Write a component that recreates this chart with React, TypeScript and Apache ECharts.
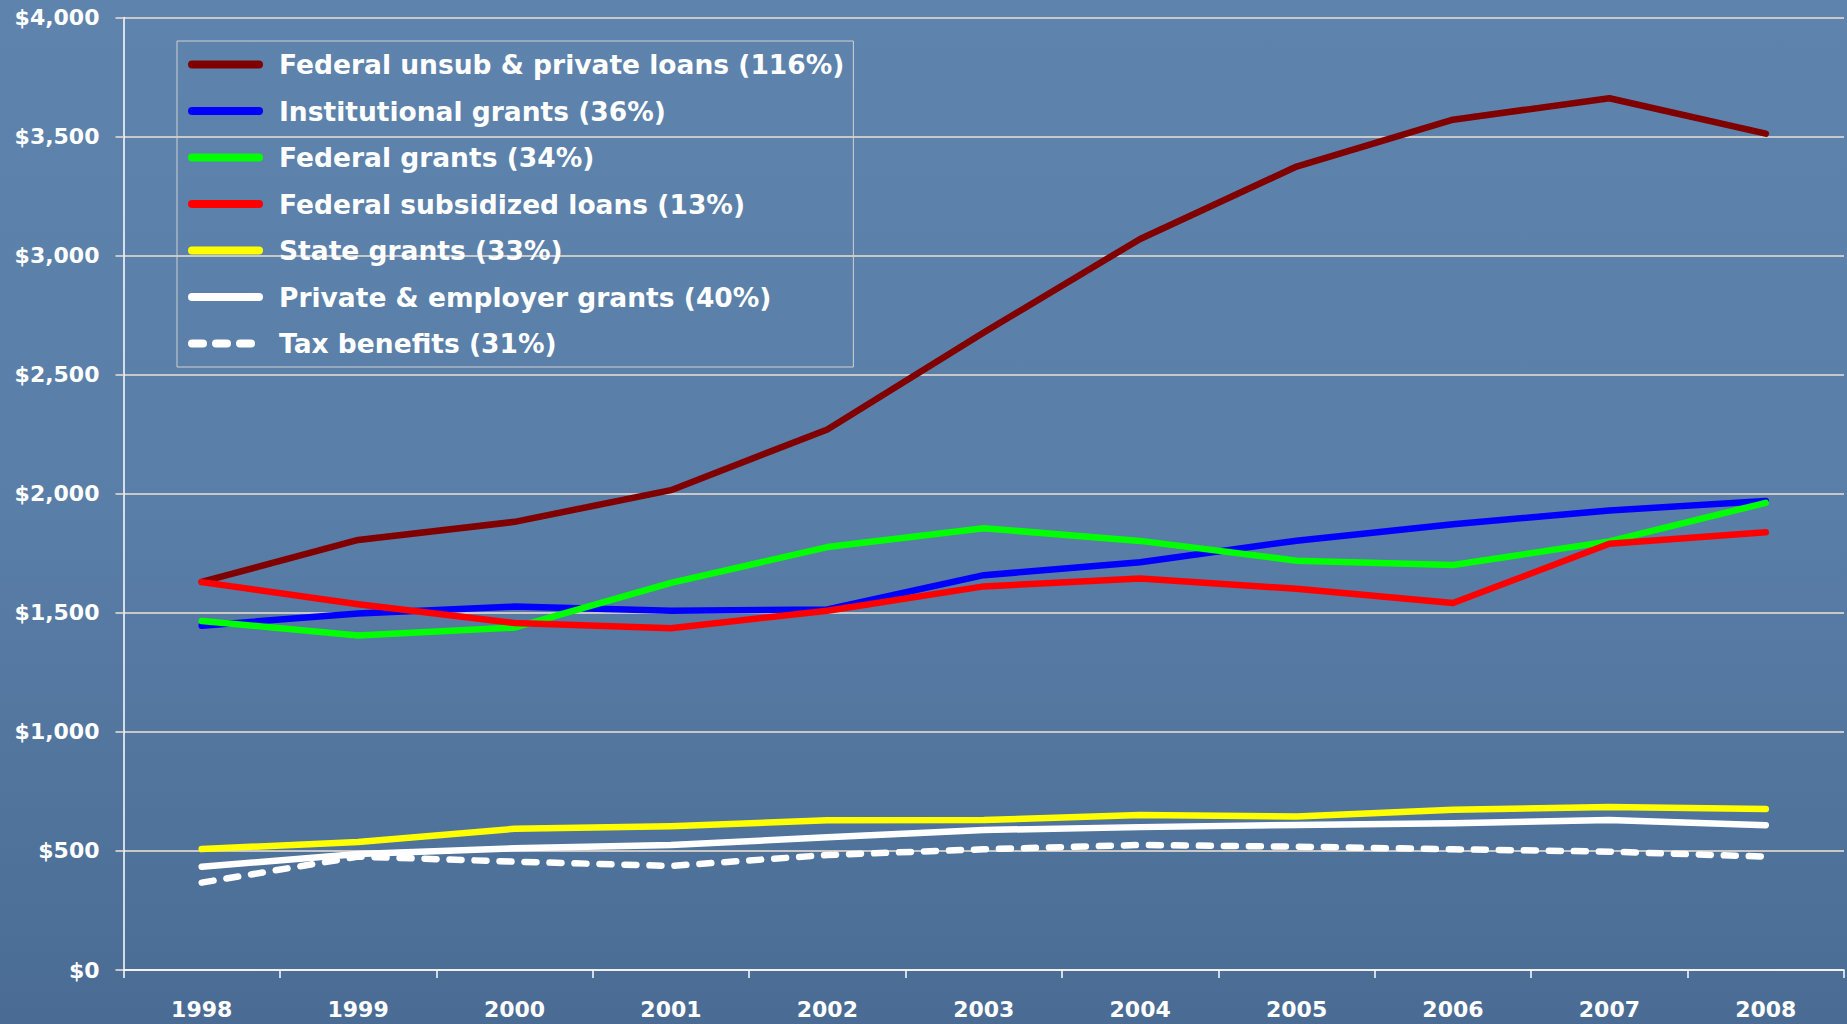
import React, { useEffect, useRef } from "react";
import * as echarts from "echarts";

const years = ["1998", "1999", "2000", "2001", "2002", "2003", "2004", "2005", "2006", "2007", "2008"];

const unsubPrivateLoans = [1630, 1806, 1882, 2015, 2270, 2677, 3070, 3374, 3571, 3661, 3512];
const institutionalGrants = [1446, 1497, 1526, 1509, 1514, 1658, 1712, 1803, 1872, 1930, 1970];
const federalGrants = [1466, 1405, 1438, 1626, 1776, 1855, 1802, 1719, 1701, 1800, 1962];
const subsidizedLoans = [1629, 1536, 1457, 1435, 1509, 1611, 1644, 1601, 1541, 1790, 1838];
const stateGrants = [508, 538, 593, 604, 629, 630, 651, 645, 673, 684, 676];
const privateEmployerGrants = [434, 487, 511, 525, 557, 588, 600, 609, 616, 630, 608];
const taxBenefits = [367, 476, 455, 437, 483, 507, 525, 518, 507, 497, 476];

const seriesNames = [
  "Federal unsub & private loans (116%)",
  "Institutional grants (36%)",
  "Federal grants (34%)",
  "Federal subsidized loans (13%)",
  "State grants (33%)",
  "Private & employer grants (40%)",
  "Tax benefits (31%)",
];
const seriesColors = ["#800000", "#0000ff", "#00ff00", "#ff0000", "#ffff00", "#ffffff", "#ffffff"];
const seriesData = [
  unsubPrivateLoans,
  institutionalGrants,
  federalGrants,
  subsidizedLoans,
  stateGrants,
  privateEmployerGrants,
  taxBenefits,
];

const FONT = "'DejaVu Sans', Verdana, sans-serif";

export default function App() {
  const ref = useRef<HTMLDivElement>(null);

  useEffect(() => {
    document.body.style.margin = "0";
    if (!ref.current) return;
    const chart = echarts.init(ref.current, undefined, { renderer: "svg" });

    const series = seriesNames.map((name, i) => ({
      name,
      type: "line",
      data: seriesData[i],
      symbol: "none",
      lineStyle: {
        color: seriesColors[i],
        width: 6.5,
        type: i === 6 ? [12, 13] : "solid",
        cap: "round",
        join: "round",
      },
      itemStyle: { color: seriesColors[i] },
      z: 2 + i,
    }));

    chart.setOption({
      animation: false,
      backgroundColor: {
        type: "linear",
        x: 0,
        y: 0,
        x2: 0,
        y2: 1,
        colorStops: [
          { offset: 0, color: "#5e84ad" },
          { offset: 0.5, color: "#597ea7" },
          { offset: 1, color: "#4a6c94" },
        ],
      },
      grid: { left: 123.5, right: 3, top: 17.5, bottom: 54, containLabel: false },
      legend: {
        orient: "vertical",
        left: 177,
        top: 41,
        padding: [10, 9, 10, 11],
        borderColor: "#d0d0d0",
        borderWidth: 1,
        itemWidth: 67,
        itemHeight: 27,
        itemGap: 19.5,
        itemStyle: { opacity: 0 },
        lineStyle: { width: 8, cap: "round" },
        textStyle: {
          color: "#ffffff",
          fontSize: 26.5,
          fontWeight: "bold",
          fontFamily: FONT,
          padding: [0, 0, 0, 15],
        },
        data: seriesNames.map((n, i) =>
          i === 6 ? { name: n, lineStyle: { type: [11, 13], width: 8, cap: "round" } } : { name: n }
        ),
      },
      xAxis: {
        type: "category",
        data: years,
        boundaryGap: true,
        axisLine: { show: true, lineStyle: { color: "#ffffff", width: 1.5 } },
        axisTick: { show: true, length: 8, lineStyle: { color: "#ffffff", width: 1.5 } },
        axisLabel: {
          color: "#ffffff",
          fontSize: 22,
          fontWeight: "bold",
          fontFamily: FONT,
          margin: 28,
        },
        splitLine: { show: false },
      },
      yAxis: {
        type: "value",
        min: 0,
        max: 4000,
        interval: 500,
        axisLine: { show: true, lineStyle: { color: "#ffffff", width: 1.5 } },
        axisTick: { show: true, length: 8, lineStyle: { color: "#c8c8c8", width: 2 } },
        axisLabel: {
          color: "#ffffff",
          fontSize: 22,
          fontWeight: "bold",
          fontFamily: FONT,
          margin: 24,
          formatter: (v: number) => "$" + v.toLocaleString("en-US"),
        },
        splitLine: { show: true, lineStyle: { color: "#c8c8c8", width: 2 } },
      },
      series,
    });

    return () => {
      chart.dispose();
    };
  }, []);

  return (
    <div
      ref={ref}
      style={{ position: "fixed", left: 0, top: 0, width: 1847, height: 1024 }}
    />
  );
}
